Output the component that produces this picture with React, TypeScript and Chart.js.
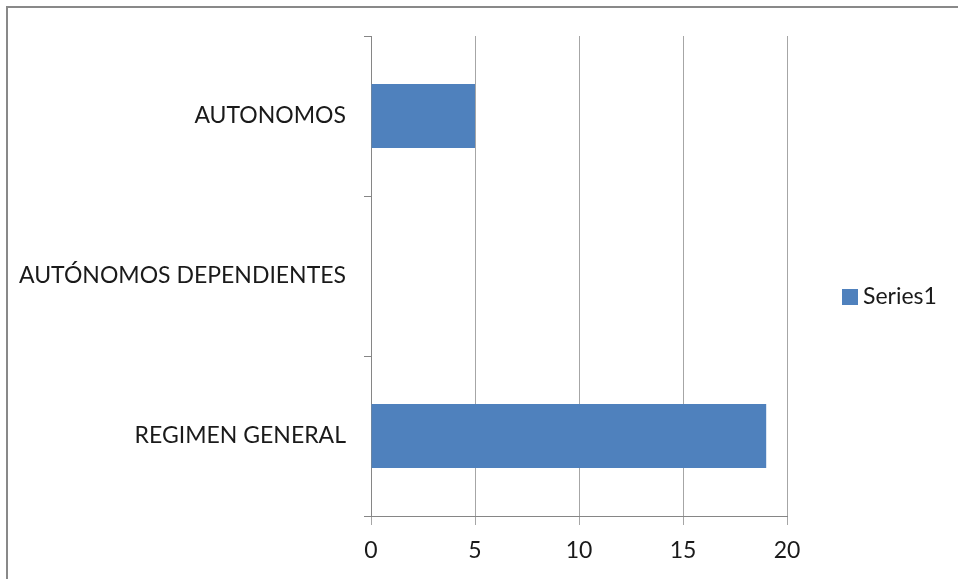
import React, { useEffect, useRef } from "react";
import { Chart, registerables } from "chart.js";

Chart.register(...registerables);

const categories = ["AUTONOMOS", "AUTÓNOMOS DEPENDIENTES", "REGIMEN GENERAL"];
const seriesName = "Series1";
const seriesValues = [5, 0, 19];
const xTicks = [0, 5, 10, 15, 20];

const FONT = "Lato";
const TEXT = "#1a1a1a";
const BAR = "#4F81BD";

const legendPlugin = {
  id: "customLegend",
  afterDraw(chart: any) {
    const ctx = chart.ctx;
    const ds = chart.data.datasets[0];
    ctx.save();
    ctx.fillStyle = ds.backgroundColor;
    ctx.fillRect(842, 289, 16, 16);
    ctx.fillStyle = TEXT;
    ctx.font = `23px ${FONT}`;
    ctx.textBaseline = "middle";
    ctx.textAlign = "left";
    ctx.fillText(ds.label, 863, 297);
    ctx.restore();
  },
};

export default function App() {
  const ref = useRef<HTMLCanvasElement | null>(null);
  useEffect(() => {
    if (!ref.current) return;
    const chart = new Chart(ref.current, {
      type: "bar",
      data: {
        labels: categories,
        datasets: [
          {
            label: seriesName,
            data: seriesValues,
            backgroundColor: BAR,
            barPercentage: 0.4,
            categoryPercentage: 1,
          },
        ],
      },
      options: {
        indexAxis: "y",
        animation: false,
        responsive: false,
        maintainAspectRatio: false,
        layout: { padding: { top: 36, right: 171, left: 0, bottom: 0 } },
        plugins: { legend: { display: false }, tooltip: { enabled: false } },
        scales: {
          x: {
            min: xTicks[0],
            max: xTicks[xTicks.length - 1],
            afterBuildTicks: (s: any) => {
              s.ticks = xTicks.map((v) => ({ value: v }));
            },
            afterFit: (s: any) => {
              s.height = 63;
            },
            grid: { color: "#a6a6a6", tickLength: 9, lineWidth: 1 },
            border: { color: "#868686", width: 1 },
            ticks: { padding: 12, color: TEXT, font: { family: FONT, size: 23 } },
          },
          y: {
            offset: true,
            afterFit: (s: any) => {
              s.width = 371;
            },
            grid: {
              offset: true,
              drawOnChartArea: false,
              drawTicks: true,
              tickLength: 7,
              color: "#868686",
            },
            border: { color: "#868686", width: 1 },
            ticks: { padding: 18, color: TEXT, font: { family: FONT, size: 23 } },
          },
        },
      },
      plugins: [legendPlugin],
    });
    return () => chart.destroy();
  }, []);
  return (
    <div
      style={{
        position: "fixed",
        left: 0,
        top: 0,
        width: 958,
        height: 579,
        overflow: "hidden",
        background: "#fff",
      }}
    >
      <div
        style={{
          position: "absolute",
          left: 6,
          top: 6,
          width: 1000,
          height: 1000,
          borderLeft: "2px solid #898989",
          borderTop: "2px solid #898989",
        }}
      />
      <canvas
        ref={ref}
        width={958}
        height={579}
        style={{ position: "absolute", left: 0, top: 0, width: 958, height: 579 }}
      />
    </div>
  );
}
